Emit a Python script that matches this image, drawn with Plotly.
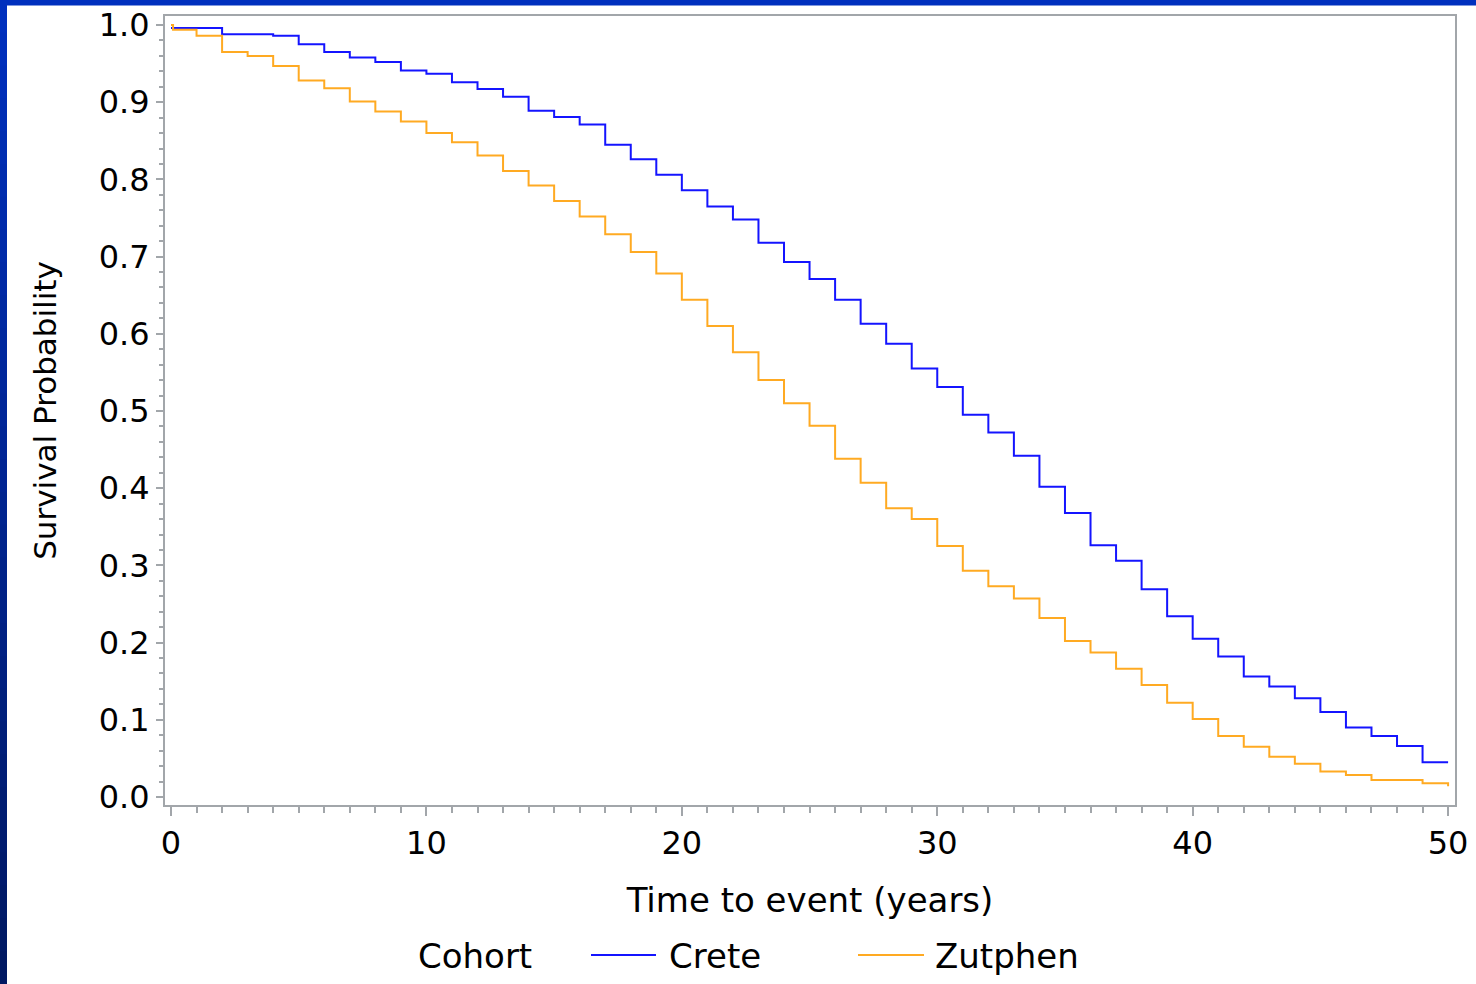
import plotly.graph_objects as go

# ---------------- data ----------------
crete_time = [0, 1, 2, 3, 4, 5, 6, 7, 8, 9, 10, 11, 12, 13, 14, 15, 16, 17, 18, 19, 20,
              21, 22, 23, 24, 25, 26, 27, 28, 29, 30, 31, 32, 33, 34, 35, 36, 37, 38, 39, 40,
              41, 42, 43, 44, 45, 46, 47, 48, 49, 50]
crete_surv = [0.996, 0.996, 0.988, 0.988, 0.986, 0.975, 0.965, 0.958, 0.952, 0.941, 0.937,
              0.926, 0.917, 0.907, 0.889, 0.881, 0.871, 0.845, 0.826, 0.806, 0.786,
              0.765, 0.748, 0.718, 0.693, 0.671, 0.644, 0.613, 0.587, 0.555, 0.531,
              0.495, 0.472, 0.442, 0.402, 0.368, 0.326, 0.306, 0.269, 0.234, 0.205,
              0.182, 0.156, 0.143, 0.128, 0.110, 0.090, 0.079, 0.066, 0.045, 0.045]

zutphen_time = [0, 0.08, 1, 2, 3, 4, 5, 6, 7, 8, 9, 10, 11, 12, 13, 14, 15, 16, 17, 18, 19, 20,
                21, 22, 23, 24, 25, 26, 27, 28, 29, 30, 31, 32, 33, 34, 35, 36, 37, 38, 39, 40,
                41, 42, 43, 44, 45, 46, 47, 48, 49, 50]
zutphen_surv = [1.0, 0.994, 0.986, 0.965, 0.960, 0.947, 0.928, 0.918, 0.901, 0.888, 0.875,
                0.860, 0.848, 0.831, 0.811, 0.792, 0.772, 0.752, 0.729, 0.706, 0.678,
                0.644, 0.610, 0.576, 0.540, 0.510, 0.481, 0.438, 0.407, 0.374, 0.360,
                0.325, 0.293, 0.273, 0.257, 0.232, 0.202, 0.187, 0.166, 0.145, 0.122,
                0.101, 0.079, 0.065, 0.052, 0.043, 0.033, 0.0285, 0.022, 0.022, 0.0177, 0.014]

series_names = ["Crete", "Zutphen"]
series_colors = ["#1414FF", "#FFAA22"]
legend_title = "Cohort"

x_ticks = [0, 10, 20, 30, 40, 50]
y_ticks = [0.0, 0.1, 0.2, 0.3, 0.4, 0.5, 0.6, 0.7, 0.8, 0.9, 1.0]

# ---------------- figure ----------------
W, H = 1476, 984
ML, MR, MT, MB = 165, 21, 16, 179
FONT = "DejaVu Sans"
AXC = "#A2A6AA"

fig = go.Figure()
fig.add_trace(go.Scatter(x=crete_time, y=crete_surv, mode="lines", name=series_names[0],
                         line=dict(color=series_colors[0], width=2, shape="hv")))
fig.add_trace(go.Scatter(x=zutphen_time, y=zutphen_surv, mode="lines", name=series_names[1],
                         line=dict(color=series_colors[1], width=2, shape="hv")))

pw, ph = W - ML - MR, H - MT - MB
def px2x(p):
    return (p - ML) / pw
def py2y(p):
    return 1 - (p - MT) / ph

# decorative blue page frame (top band + left gradient band)
shapes = [dict(type="rect", xref="paper", yref="paper", x0=px2x(0), x1=px2x(W),
               y0=py2y(0), y1=py2y(5.5), fillcolor="#0030BE", line=dict(width=0), layer="above")]
nb = 30
top_c = (0, 48, 190)
bot_c = (0, 24, 98)
for i in range(nb):
    f = i / (nb - 1)
    c = tuple(int(round(top_c[k] + (bot_c[k] - top_c[k]) * f)) for k in range(3))
    shapes.append(dict(type="rect", xref="paper", yref="paper", x0=px2x(0), x1=px2x(7),
                       y0=py2y(H * i / nb), y1=py2y(H * (i + 1) / nb + 1),
                       fillcolor="rgb(%d,%d,%d)" % c, line=dict(width=0), layer="above"))

# legend drawn below the axis title (line samples + labels)
LEG_Y = 956
leg_lines = [(591, 656, 669), (858, 924, 935)]
annotations = [dict(text=legend_title, xref="paper", yref="paper", x=px2x(416), y=py2y(LEG_Y),
                    xanchor="left", yanchor="middle", showarrow=False,
                    font=dict(size=34, family=FONT, color="black"))]
for (x0, x1, xt), nm, col in zip(leg_lines, series_names, series_colors):
    shapes.append(dict(type="line", xref="paper", yref="paper", x0=px2x(x0), x1=px2x(x1),
                       y0=py2y(LEG_Y - 1), y1=py2y(LEG_Y - 1), line=dict(color=col, width=2)))
    annotations.append(dict(text=nm, xref="paper", yref="paper", x=px2x(xt - 2), y=py2y(LEG_Y),
                            xanchor="left", yanchor="middle", showarrow=False,
                            font=dict(size=34, family=FONT, color="black")))

fig.update_layout(
    width=W, height=H,
    margin=dict(l=ML, r=MR, t=MT, b=MB, pad=0),
    paper_bgcolor="white", plot_bgcolor="white",
    font=dict(family=FONT, color="black"),
    shapes=shapes,
    annotations=annotations,
    showlegend=False,
)

fig.update_xaxes(
    range=[-0.235, 50.27], tickvals=x_ticks, ticktext=[str(v) for v in x_ticks],
    showgrid=False, zeroline=False, showline=True, mirror=True,
    linecolor=AXC, linewidth=2,
    ticks="outside", ticklen=9, tickwidth=2, tickcolor=AXC,
    tickfont=dict(size=32, family=FONT),
    minor=dict(dtick=1, tick0=0, ticks="outside", ticklen=6, tickwidth=2, tickcolor=AXC, showgrid=False),
    title=dict(text="Time to event (years)", font=dict(size=34, family=FONT), standoff=27),
    automargin=False,
)
fig.update_yaxes(
    range=[-0.0104, 1.0117], tickvals=y_ticks, ticktext=["%.1f" % v for v in y_ticks],
    showgrid=False, zeroline=False, showline=True, mirror=True,
    linecolor=AXC, linewidth=2,
    ticks="outside", ticklen=7, tickwidth=2, tickcolor=AXC,
    tickfont=dict(size=32, family=FONT),
    minor=dict(dtick=0.02, tick0=0, ticks="outside", ticklen=4, tickwidth=2, tickcolor=AXC, showgrid=False),
    title=dict(text="Survival Probability", font=dict(size=31, family=FONT), standoff=33),
    automargin=False,
)

fig.write_html("out.html")
